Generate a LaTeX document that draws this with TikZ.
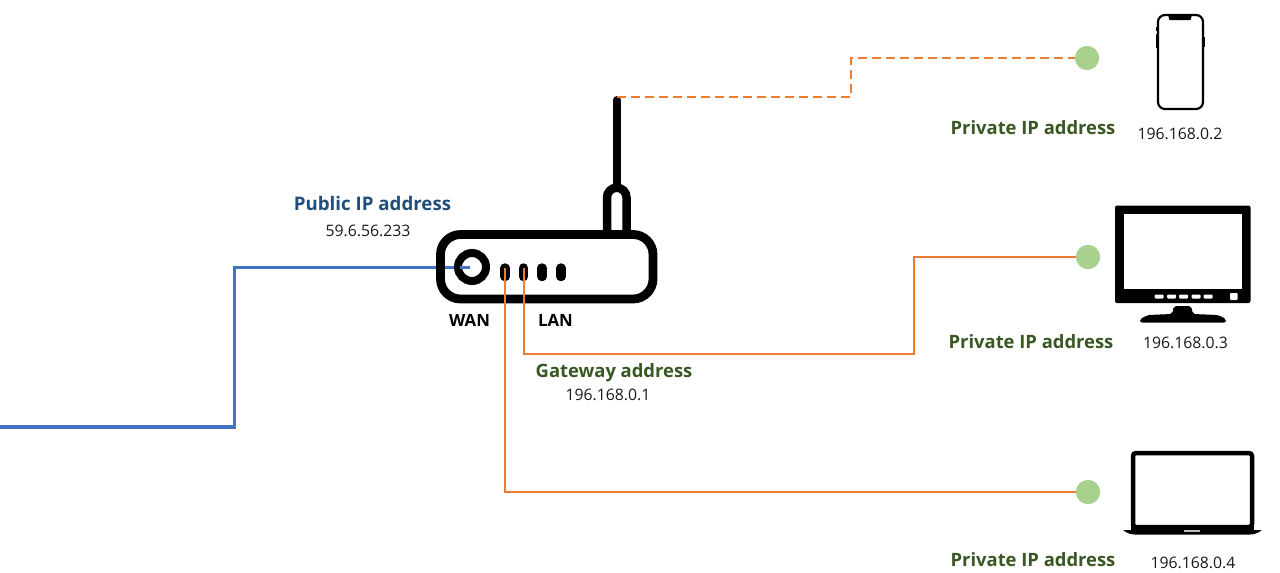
\documentclass[tikz,border=0pt]{standalone}
\usepackage{fontspec}
\setmainfont{Open Sans}
\definecolor{wanblue}{HTML}{4472C4}
\definecolor{lanorange}{HTML}{ED7D31}
\definecolor{dotgreen}{HTML}{A9D18E}
\definecolor{pubblue}{HTML}{1F4E79}
\definecolor{privgreen}{HTML}{385723}
\tikzset{
  wire/.style={line width=2.8pt},
  bluewire/.style={wire,wanblue,line width=3.2pt},
  orangewire/.style={wire,lanorange},
  hostdot/.style={circle,fill=dotgreen,draw=none,minimum size=24pt,inner sep=0pt},
  iptext/.style={inner sep=0pt,font=\fontsize{15.8}{17}\selectfont,text=black!90},
  pubtext/.style={inner sep=0pt,font=\fontsize{18.7}{20}\selectfont\bfseries,text=pubblue},
  privtext/.style={inner sep=0pt,font=\fontsize{18.4}{20}\selectfont\bfseries,text=privgreen},
  porttext/.style={inner sep=0pt,font=\fontsize{16.8}{18}\selectfont\bfseries,text=black},
  routerline/.style={draw=black,line width=8.8pt},
  led/.style={draw=black,line width=9.5pt,line cap=round},
}
\begin{document}
\begin{tikzpicture}[x=1pt,y=-1pt]
\useasboundingbox (0,0) rectangle (1280,573);
% named anchors
\coordinate (inet) at (0,427);
\coordinate (wanport) at (470,267.5);
\coordinate (lan1) at (505,268);
\coordinate (lan2) at (524,268);
\coordinate (anttip) at (617,97);
\node[hostdot] (dot2) at (1087,58) {};
\node[hostdot] (dot3) at (1088,257) {};
\node[hostdot] (dot4) at (1088,492) {};
\coordinate (bend1) at (234.5,427);
\coordinate (bend2) at (851,97);
\coordinate (bend3) at (914,354);

% blue under router
\draw[bluewire] (inet) -- (bend1) |- (wanport);

% router
\draw[routerline,rounded corners=20pt] (440.5,234.5) rectangle (653,299);
\draw[draw=black,line width=8pt] (472,267) circle (14pt);
\fill[wanblue] (460,266) rectangle (470,269);
\foreach \x in {505,523.5,542,561}{\draw[led] (\x,268) -- (\x,276.5);}
\draw[draw=black,line width=8pt,line cap=round] (617,100) -- (617,186);
\draw[draw=black,line width=8.5pt] (607,232) -- (607,197.5) arc[start angle=180,end angle=0,radius=9.75pt] -- (626.5,232);

% connectors
\draw[orangewire,dashed,dash pattern=on 9pt off 5pt] (anttip) -- (bend2) |- (dot2.center);
\draw[orangewire] (lan2) |- (bend3) |- (dot3.center);
\draw[orangewire] (lan1) |- (dot4.center);
\node[hostdot] at (dot2) {};
\node[hostdot] at (dot3) {};
\node[hostdot] at (dot4) {};

% phone
\draw[black,line width=2.2pt,rounded corners=7pt,fill=white] (1158,15) rectangle (1203,109);
\fill[black] (1168,15) -- (1192,15) -- (1190.5,20) -- (1169.5,20) -- cycle;
\draw[black,line width=1.2pt] (1156.8,27) -- (1156.8,31) (1156.8,34) -- (1156.8,48) (1204,37) -- (1204,47);

% monitor
\fill[black,rounded corners=2pt] (1115,205.5) rectangle (1250.5,303);
\fill[white] (1124,214) rectangle (1241.5,289);
\foreach \x in {1154.5,1167,1179,1191.5,1203.5}{\fill[white,rounded corners=1pt] (\x,294.5) rectangle +(9,4);}
\fill[white,rounded corners=1pt] (1230,293) rectangle (1237.5,300);
\fill[black,rounded corners=2pt] (1174,306) -- (1191,306) -- (1193,314) -- (1218,315) -- (1226,319) -- (1226,322.5) -- (1140,322.5) -- (1140,319) -- (1148,315) -- (1172,314) -- cycle;

% laptop
\draw[black,line width=4.5pt,rounded corners=3pt] (1133,453) -- (1252,453) -- (1252,527) -- (1133,527) -- cycle;
\fill[black] (1123,530) -- (1262,530) .. controls (1258,533) and (1255,534.5) .. (1250,534.5) -- (1135,534.5) .. controls (1130,534.5) and (1127,533) .. (1123,530) -- cycle;
\fill[black] (1131,525) rectangle (1254,531);
\fill[white!75!black] (1184,530) rectangle (1200,531.5);

% labels
\node[pubtext] (pub) at (372.5,203.5) {Public IP address};
\node[iptext] (pubip) at (368,230.5) {59.6.56.233};
\node[porttext] (wan) at (469.5,320) {WAN};
\node[porttext] (lan) at (555.5,320) {LAN};
\node[privtext] (gw) at (614,373) {Gateway address};
\node[iptext] (gwip) at (608,394.5) {196.168.0.1};
\node[privtext] (p2) at (1033,128) {Private IP address};
\node[iptext] (ip2) at (1180,133.5) {196.168.0.2};
\node[privtext] (p3) at (1031,342) {Private IP address};
\node[iptext] (ip3) at (1185.5,342.5) {196.168.0.3};
\node[privtext] (p4) at (1033,560) {Private IP address};
\node[iptext] (ip4) at (1193,562.5) {196.168.0.4};
\end{tikzpicture}
\end{document}
